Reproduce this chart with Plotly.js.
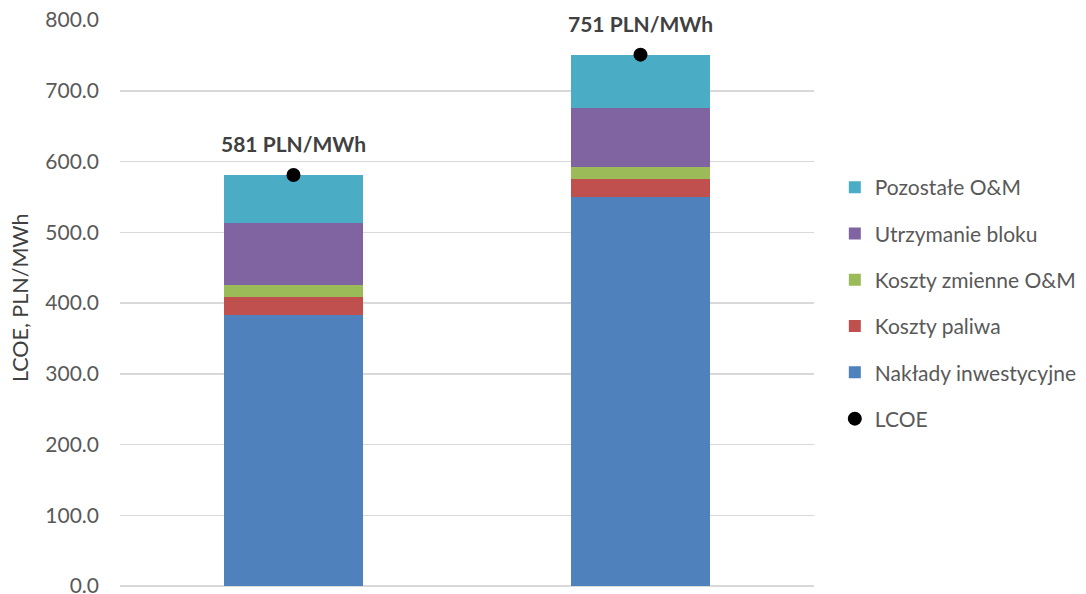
<!DOCTYPE html>
<html><head><meta charset="utf-8">
<script src="https://cdn.plot.ly/plotly-3.0.1.min.js"></script>
<style>body{margin:0;background:#fff}#c{width:1086px;height:594px}</style>
</head><body><div id="c"></div>
<script>
const categories = ['A', 'B'];
const naklady = [383, 550];
const paliwo = [25, 25];
const zmienne = [18, 17];
const utrzymanie = [87, 83];
const pozostale = [68, 76];
const lcoe = [581, 751];
const lcoeLabels = ['581 PLN/MWh', '751 PLN/MWh'];

const FONT = 'Lato, "Open Sans", sans-serif';
function bar(name, y, color, rank) {
  return {type: 'bar', name: name, x: categories, y: y, width: 0.403,
    marker: {color: color, line: {width: 0}}, legendgroup: name, legendrank: rank, hoverinfo: 'skip'};
}
const data = [
  bar('Nakłady inwestycyjne', naklady, '#4f81bd', 5),
  bar('Koszty paliwa', paliwo, '#c0504d', 4),
  bar('Koszty zmienne O&M', zmienne, '#9bbb59', 3),
  bar('Utrzymanie bloku', utrzymanie, '#8064a2', 2),
  bar('Pozostałe O&M', pozostale, '#4bacc6', 1),
  {type: 'scatter', mode: 'markers', name: 'LCOE', x: categories, y: lcoe,
   marker: {color: '#000', size: 14}, legendgroup: 'LCOE', legendrank: 6, hoverinfo: 'skip'}
];
const annotations = categories.map((c, i) => ({
  x: c, y: lcoe[i], text: '<b>' + lcoeLabels[i] + '</b>', showarrow: false,
  yshift: 31, font: {family: FONT, size: 21, color: '#404040'}
}));
annotations.push({
  xref: 'paper', yref: 'paper', x: -0.143, y: 0.51, xanchor: 'center', yanchor: 'middle',
  text: 'LCOE, PLN/MWh', textangle: -90, showarrow: false,
  font: {family: FONT, size: 21.5, color: '#404040'}
});
const layout = {
  width: 1086, height: 594,
  margin: {l: 120, r: 272, t: 20, b: 8, autoexpand: false},
  paper_bgcolor: '#fff', plot_bgcolor: '#fff',
  barmode: 'stack', showlegend: true,
  font: {family: FONT, color: '#595959', size: 18},
  xaxis: {showticklabels: false, showgrid: false, zeroline: false, showline: false,
    range: [-0.5, 1.5]},
  yaxis: {range: [0, 800], dtick: 100, tickformat: '.1f', showgrid: true,
    gridcolor: '#d9d9d9', gridwidth: 1.5, zeroline: true, zerolinecolor: '#d9d9d9', zerolinewidth: 2,
    ticklabelstandoff: 20, ticklabeloverflow: 'allow',
    tickfont: {family: FONT, size: 21, color: '#595959'}},
  legend: {x: 1.03, xanchor: 'left', y: 0.5, yanchor: 'middle',
    traceorder: 'grouped', tracegroupgap: 16,
    font: {family: FONT, size: 21, color: '#595959'}},
  annotations: annotations
};
Plotly.newPlot('c', data, layout, {displayModeBar: false, staticPlot: true});
</script></body></html>
